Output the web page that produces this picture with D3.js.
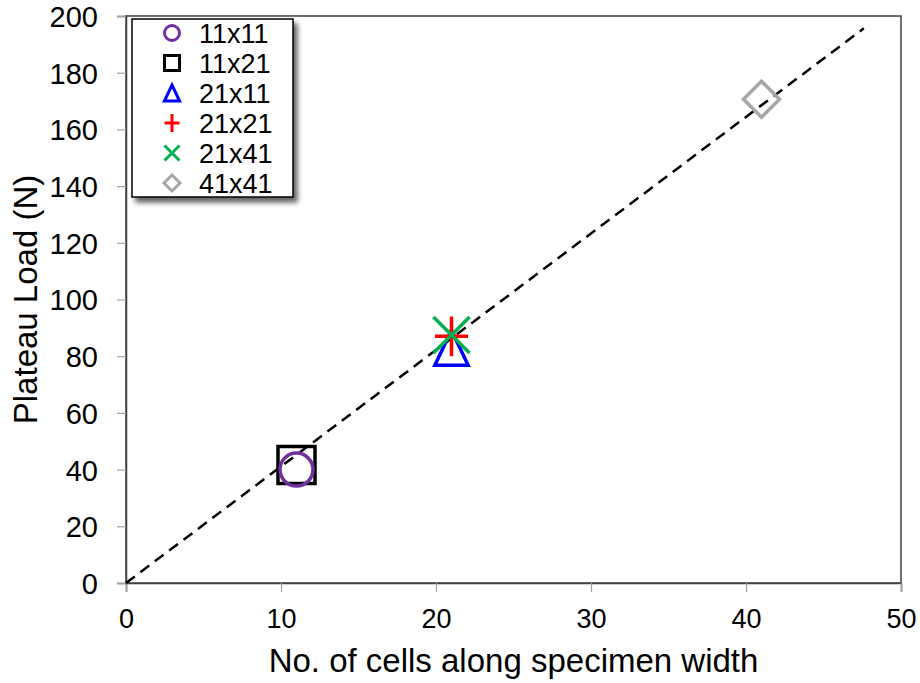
<!DOCTYPE html>
<html>
<head>
<meta charset="utf-8">
<script src="https://cdn.jsdelivr.net/npm/d3@7"></script>
<style>
  html, body { margin: 0; padding: 0; background: #fff; }
  svg { display: block; font-family: "Liberation Sans", Arial, sans-serif; }
</style>
</head>
<body>
<svg id="chart" width="920" height="683"></svg>
<script>
// Specimen configurations and their measured plateau loads
const seriesNames = ["11x11", "11x21", "21x11", "21x21", "21x41", "41x41"];
const cellsAlongWidth = [11, 11, 21, 21, 21, 41];
const plateauLoad = [40, 41.6, 83, 87, 87.5, 170.6];
const seriesColors = ["#7030A0", "#000000", "#0000FF", "#FF0000", "#00B050", "#A6A6A6"];
const seriesShapes = ["circle", "square", "triangle", "plus", "cross", "diamond"];

// Linear fit through the origin
const fitX = [0, 47.6];
const fitSlope = 4.11;

const xTicks = [0, 10, 20, 30, 40, 50];
const yTicks = [0, 20, 40, 60, 80, 100, 120, 140, 160, 180, 200];

const svg = d3.select("#chart");
const margin = { left: 126, right: 19, top: 16, bottom: 100 };
const W = 920, H = 683;

const x = d3.scaleLinear().domain([0, 50]).range([margin.left, W - margin.right]);
const y = d3.scaleLinear().domain([0, 200]).range([H - margin.bottom, margin.top]);

const axisColor = "#404040";

// Plot frame
svg.append("rect")
  .attr("x", x(0)).attr("y", y(200))
  .attr("width", x(50) - x(0)).attr("height", y(0) - y(200))
  .attr("fill", "none").attr("stroke", axisColor).attr("stroke-width", 1.5);

// Axes
const xAxis = svg.append("g")
  .attr("transform", `translate(0,${y(0)})`)
  .call(d3.axisBottom(x).tickValues(xTicks).tickSize(9).tickPadding(17).tickFormat(d3.format("d")));
const yAxis = svg.append("g")
  .attr("transform", `translate(${x(0)},0)`)
  .call(d3.axisLeft(y).tickValues(yTicks).tickSize(9).tickPadding(19).tickFormat(d3.format("d")));

[xAxis, yAxis].forEach(g => {
  g.select(".domain").attr("stroke", axisColor).attr("stroke-width", 1.5);
  g.selectAll(".tick line").attr("stroke", "#a0a0a0").attr("stroke-width", 1.2);
  g.selectAll(".tick text").attr("fill", "#000")
    .attr("font-family", "'Liberation Sans', Arial, sans-serif");
});
xAxis.selectAll(".tick text").attr("font-size", 27);
yAxis.selectAll(".tick text").attr("font-size", 29).attr("dy", "0.36em");

// Axis titles
svg.append("text")
  .attr("x", (x(0) + x(50)) / 2).attr("y", 672)
  .attr("text-anchor", "middle").attr("font-size", 33).attr("fill", "#000")
  .text("No. of cells along specimen width");
svg.append("text")
  .attr("transform", `translate(37,${(y(0) + y(200)) / 2}) rotate(-90)`)
  .attr("text-anchor", "middle").attr("font-size", 33).attr("fill", "#000")
  .text("Plateau Load (N)");

// Fit line
const line = d3.line().x(d => x(d)).y(d => y(fitSlope * d));
svg.append("path")
  .datum(fitX)
  .attr("d", line)
  .attr("fill", "none").attr("stroke", "#000").attr("stroke-width", 2.5)
  .attr("stroke-dasharray", "11,7");

// Marker path generator, centred on the shape's bounding box
function markerPath(shape, r) {
  const p = d3.path();
  switch (shape) {
    case "circle":
      p.moveTo(r, 0); p.arc(0, 0, r, 0, 2 * Math.PI); break;
    case "square":
      p.rect(-r, -r, 2 * r, 2 * r); break;
    case "triangle":
      p.moveTo(0, -r); p.lineTo(r * 0.95, r); p.lineTo(-r * 0.95, r); p.closePath(); break;
    case "plus":
      p.moveTo(-r, 0); p.lineTo(r, 0); p.moveTo(0, -r * 1.2); p.lineTo(0, r * 1.2); break;
    case "cross":
      p.moveTo(-r, -r); p.lineTo(r, r); p.moveTo(r, -r); p.lineTo(-r, r); break;
    case "diamond":
      p.moveTo(0, -r); p.lineTo(r, 0); p.lineTo(0, r); p.lineTo(-r, 0); p.closePath(); break;
  }
  return p.toString();
}

const markerSize = { circle: 16.5, square: 18.5, triangle: 17.5, plus: 16.5, cross: 18, diamond: 18 };
const legendSize = { circle: 7.5, square: 7.5, triangle: 8, plus: 7.5, cross: 7.5, diamond: 8 };

const points = seriesNames.map((name, i) => ({
  name, cx: cellsAlongWidth[i], cy: plateauLoad[i],
  color: seriesColors[i], shape: seriesShapes[i]
}));

// Draw larger shapes first so the smaller ones remain visible on top
const drawOrder = ["square", "circle", "diamond", "triangle", "plus", "cross"];
svg.append("g").selectAll("path")
  .data(points.slice().sort((a, b) => drawOrder.indexOf(a.shape) - drawOrder.indexOf(b.shape)))
  .join("path")
  .attr("transform", d => `translate(${x(d.cx)},${y(d.cy)})`)
  .attr("d", d => markerPath(d.shape, markerSize[d.shape]))
  .attr("fill", "none")
  .attr("stroke", d => d.color)
  .attr("stroke-width", 3.5)
  .attr("stroke-linejoin", "miter");

// Legend
const defs = svg.append("defs");
const f = defs.append("filter").attr("id", "shadow")
  .attr("x", "-20%").attr("y", "-20%").attr("width", "140%").attr("height", "140%");
f.append("feGaussianBlur").attr("in", "SourceAlpha").attr("stdDeviation", 2.5);
f.append("feOffset").attr("dx", 4).attr("dy", 5).attr("result", "off");
f.append("feComponentTransfer").append("feFuncA").attr("type", "linear").attr("slope", 0.6);
const fm = f.append("feMerge");
fm.append("feMergeNode");
fm.append("feMergeNode").attr("in", "SourceGraphic");

const legend = svg.append("g");
legend.append("rect")
  .attr("x", 132).attr("y", 19).attr("width", 161).attr("height", 178)
  .attr("fill", "#fff").attr("stroke", "#000").attr("stroke-width", 1.5)
  .attr("filter", "url(#shadow)");

const rows = legend.selectAll("g.row").data(points).join("g")
  .attr("class", "row")
  .attr("transform", (d, i) => `translate(172,${33 + i * 30})`);
rows.append("path")
  .attr("d", d => markerPath(d.shape, legendSize[d.shape]))
  .attr("fill", "none").attr("stroke", d => d.color).attr("stroke-width", 3);
rows.append("text")
  .attr("x", 27).attr("dy", "0.36em")
  .attr("font-size", 27).attr("fill", "#000")
  .text(d => d.name);
</script>
</body>
</html>
